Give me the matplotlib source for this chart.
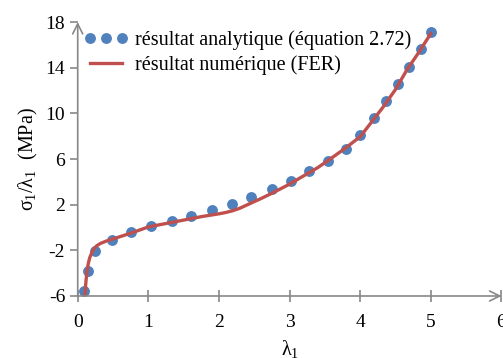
# Courbe sigma1/lambda1 : résultat analytique vs numérique (FER)
import matplotlib
matplotlib.use("Agg")
import matplotlib.pyplot as plt

plt.rcParams['font.family'] = ['Liberation Serif', 'DejaVu Serif']
plt.rcParams['mathtext.fontset'] = 'custom'
plt.rcParams['mathtext.rm'] = 'Liberation Serif'
plt.rcParams['mathtext.it'] = 'Liberation Serif'

# points analytiques (équation 2.72)
lam_ana = [0.09, 0.14, 0.25, 0.48, 0.76, 1.04, 1.33, 1.61, 1.90, 2.19, 2.45,
           2.75, 3.02, 3.28, 3.55, 3.80, 4.00, 4.19, 4.36, 4.53, 4.69, 4.86, 5.0]
sig_ana = [-5.6, -3.8, -2.1, -1.1, -0.4, 0.1, 0.6, 1.0, 1.5, 2.05, 2.65,
           3.4, 4.1, 4.95, 5.85, 6.85, 8.1, 9.6, 11.1, 12.55, 14.1, 15.6, 17.1]

# courbe numérique (FER)
lam_num = [0.1, 0.11, 0.12, 0.135, 0.15, 0.17, 0.2, 0.23, 0.27, 0.32, 0.4, 0.5,
           0.75, 1.0, 1.25, 1.5, 1.75, 2.0, 2.1, 2.2, 2.3, 2.44, 2.6, 2.75, 3.0,
           3.15, 3.4, 3.62, 3.8, 4.0, 4.15, 4.33, 4.5, 4.66, 4.83, 5.0]
sig_num = [-6.05, -5.2, -4.5, -3.7, -3.15, -2.65, -2.2, -1.85, -1.6, -1.4, -1.2, -1.0,
           -0.5, 0.05, 0.35, 0.65, 0.95, 1.2, 1.32, 1.48, 1.7, 2.1, 2.55, 3.0, 3.8,
           4.35, 5.25, 6.2, 7.0, 7.96, 9.15, 10.6, 12.1, 13.8, 15.35, 17.0]

xticks = [0, 1, 2, 3, 4, 5, 6]
yticks = [-6, -2, 2, 6, 10, 14, 18]

fig = plt.figure(figsize=(5.03, 3.58), dpi=100)
ax = fig.add_axes([0.1545, 0.1732, 0.8425, 0.7653])

ax.plot(lam_ana, sig_ana, 'o', color='#4F81BD', markersize=6.8,
        label='résultat analytique (équation 2.72)', zorder=2)
ax.plot(lam_num, sig_num, '-', color='#C0504D', linewidth=2.4,
        label='résultat numérique (FER)', zorder=3)

ax.set_xlim(0, 6)
ax.set_ylim(-6, 18)
ax.set_xticks(xticks)
ax.set_yticks(yticks)
ax.set_xticklabels([str(t) for t in xticks])
ax.set_yticklabels([str(t) for t in yticks])

for s in ax.spines.values():
    s.set_visible(False)
ax.patch.set_visible(False)

# axes avec flèches
ax.annotate('', xy=(1.0, 0), xytext=(0, 0), xycoords='axes fraction',
            arrowprops=dict(arrowstyle='->', color='#888888', lw=1.2,
                            mutation_scale=18, shrinkA=0, shrinkB=0))
ax.annotate('', xy=(0, 1.0), xytext=(0, 0), xycoords='axes fraction',
            arrowprops=dict(arrowstyle='->', color='#888888', lw=1.2,
                            mutation_scale=18, shrinkA=0, shrinkB=0))

ax.tick_params(axis='x', direction='inout', length=8, width=1.2, color='#888888',
               labelsize=14, pad=9)
ax.tick_params(axis='y', direction='out', length=6, width=1.2, color='#888888',
               labelsize=14, pad=3)

ax.set_xlabel(r'$\lambda_1$', fontsize=14.5, labelpad=5)
ax.set_ylabel(r'$\sigma_1/\lambda_1$  (MPa)', fontsize=14.5, labelpad=4)

leg = ax.legend(loc='upper left', frameon=False, fontsize=14.5, numpoints=3,
                handlelength=2.2, handletextpad=0.35, borderaxespad=0.0,
                labelspacing=0.25, bbox_to_anchor=(-0.005, 1.0))

fig.savefig('out.png', dpi=100)
